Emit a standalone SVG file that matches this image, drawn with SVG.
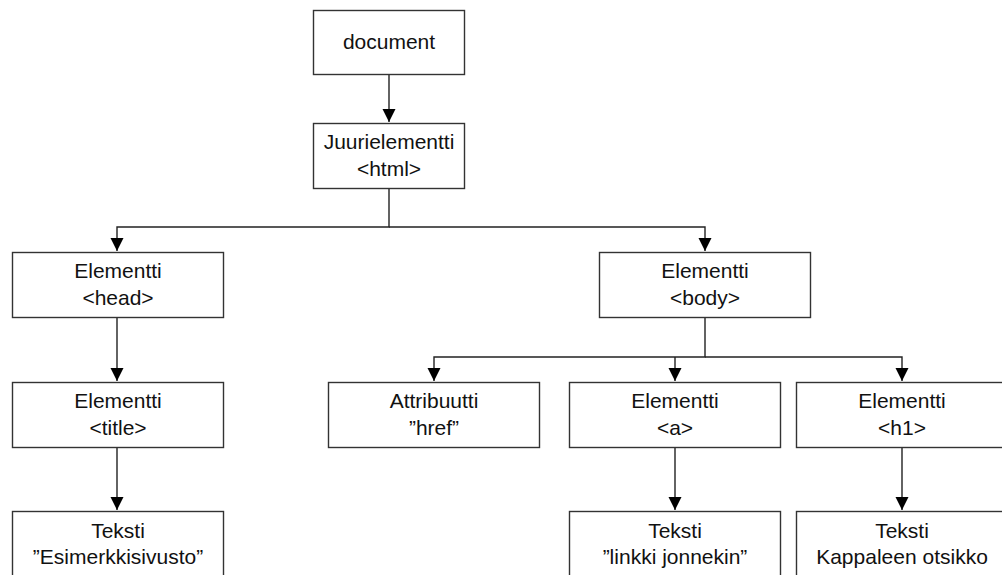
<svg xmlns="http://www.w3.org/2000/svg" width="1002" height="575" viewBox="0 0 1002 575">
<style>
.box{fill:#fff;stroke:#333;stroke-width:1.4}
.t{font-family:"Liberation Sans",Arial,sans-serif;font-size:21px;fill:#111;text-anchor:middle}
.c{fill:none;stroke:#222;stroke-width:1.4}
</style>
<defs>
<marker id="ah" markerWidth="13" markerHeight="14" refX="13" refY="6.5" orient="auto" markerUnits="userSpaceOnUse" viewBox="0 0 13 13">
<path d="M0,0 L13,6.5 L0,13 Z" fill="#000"/>
</marker>
</defs>
<rect width="1002" height="575" fill="#fff"/>
<g id="connectors">
<path class="c" d="M389,74 V122" marker-end="url(#ah)"/>
<path class="c" d="M389,188 V227 H117 V251" marker-end="url(#ah)"/>
<path class="c" d="M389,227 H705 V251" marker-end="url(#ah)"/>
<path class="c" d="M117,317 V381" marker-end="url(#ah)"/>
<path class="c" d="M705,317 V357 H434 V381" marker-end="url(#ah)"/>
<path class="c" d="M675,357 V381" marker-end="url(#ah)"/>
<path class="c" d="M705,357 H902 V381" marker-end="url(#ah)"/>
<path class="c" d="M117,447 V510" marker-end="url(#ah)"/>
<path class="c" d="M675,447 V510" marker-end="url(#ah)"/>
<path class="c" d="M902,447 V510" marker-end="url(#ah)"/>
</g>
<g id="document">
<rect class="box" x="313.5" y="10.5" width="151" height="64"/>
<text class="t" x="389" y="48.5">document</text>
</g>
<g id="html">
<rect class="box" x="313.5" y="123.5" width="151" height="65"/>
<text class="t" x="389" y="148.5">Juurielementti</text>
<text class="t" x="389" y="175.5">&lt;html&gt;</text>
</g>
<g id="head">
<rect class="box" x="12.5" y="252.5" width="211" height="65"/>
<text class="t" x="118" y="277.5">Elementti</text>
<text class="t" x="118" y="304.5">&lt;head&gt;</text>
</g>
<g id="body">
<rect class="box" x="599.5" y="252.5" width="211" height="65"/>
<text class="t" x="705" y="277.5">Elementti</text>
<text class="t" x="705" y="304.5">&lt;body&gt;</text>
</g>
<g id="title">
<rect class="box" x="12.5" y="382.5" width="211" height="65"/>
<text class="t" x="118" y="407.5">Elementti</text>
<text class="t" x="118" y="434.5">&lt;title&gt;</text>
</g>
<g id="href">
<rect class="box" x="328.5" y="382.5" width="211" height="65"/>
<text class="t" x="434" y="407.5">Attribuutti</text>
<text class="t" x="434" y="434.5">”href”</text>
</g>
<g id="a">
<rect class="box" x="569.5" y="382.5" width="211" height="65"/>
<text class="t" x="675" y="407.5">Elementti</text>
<text class="t" x="675" y="434.5">&lt;a&gt;</text>
</g>
<g id="h1">
<rect class="box" x="796.5" y="382.5" width="211" height="65"/>
<text class="t" x="902" y="407.5">Elementti</text>
<text class="t" x="902" y="434.5">&lt;h1&gt;</text>
</g>
<g id="text-title">
<rect class="box" x="12.5" y="511.5" width="211" height="65"/>
<text class="t" x="118" y="537.5">Teksti</text>
<text class="t" x="118" y="564">”Esimerkkisivusto”</text>
</g>
<g id="text-a">
<rect class="box" x="569.5" y="511.5" width="211" height="65"/>
<text class="t" x="675" y="537.5">Teksti</text>
<text class="t" x="675" y="564">”linkki jonnekin”</text>
</g>
<g id="text-h1">
<rect class="box" x="796.5" y="511.5" width="211" height="65"/>
<text class="t" x="902" y="537.5">Teksti</text>
<text class="t" x="902" y="564">Kappaleen otsikko</text>
</g>
</svg>
